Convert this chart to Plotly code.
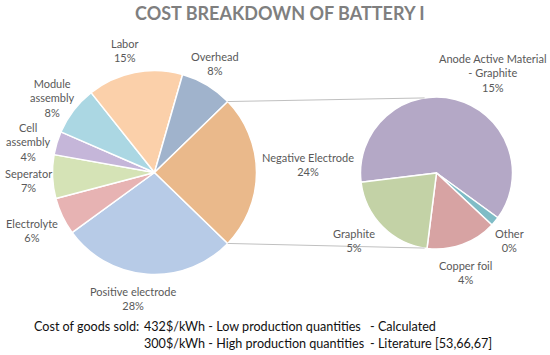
import math
import plotly.graph_objects as go

# ---- data ----
main_labels = ["Positive electrode", "Electrolyte", "Seperator", "Cell assembly",
               "Module assembly", "Labor", "Overhead", "Negative Electrode"]
main_values = [27.7, 5.9, 6.9, 3.7, 7.8, 15.1, 8.3]   # Negative Electrode = sum of its breakdown
sub_labels = ["Anode Active Material - Graphite", "Other", "Copper foil", "Graphite"]
sub_values = [15.15, 0.48, 3.67, 5.15]
footer_lines = [
    ("Cost of goods sold:", "432$/kWh - Low production quantities", "- Calculated"),
    ("", "300$/kWh - High production quantities", "- Literature [53,66,67]"),
]
title_text = "COST BREAKDOWN OF BATTERY I"

# ---- styles ----
main_colors = ["#b7cbe7", "#e7b3b3", "#d5e3b6", "#c5b6d9", "#abd7e3", "#fbd0aa", "#a0b3cc", "#eab98b"]
sub_colors = ["#b4a8c6", "#7fbcc6", "#d7a3a3", "#c3d2a6"]
W, H = 550, 355
LABEL_FONT = dict(family="Lato, Open Sans, sans-serif", size=11, color="#595959")

neg_value = sum(sub_values)
all_main = main_values + [neg_value]
total = sum(all_main)


def pct(v):
    return f"{round(v / total * 100):.0f}%"


def px(x):
    return x / W


def py(y):
    return 1 - y / H


# geometry (pixels)
c1x, c1y, r1 = 154.5, 172.5, 102
c2x, c2y, r2 = 436.5, 173, 76

half = neg_value / total * 180.0
rot_main = 90 + half

fig = go.Figure()
fig.add_trace(go.Pie(
    labels=main_labels, values=all_main, sort=False, direction="clockwise",
    rotation=rot_main, textinfo="none", hoverinfo="label+percent",
    marker=dict(colors=main_colors, line=dict(color="white", width=1.5)),
    domain=dict(x=[px(c1x - r1), px(c1x + r1)], y=[py(c1y + r1), py(c1y - r1)]),
    showlegend=False,
))
fig.add_trace(go.Pie(
    labels=sub_labels, values=sub_values, sort=False, direction="clockwise",
    rotation=263, textinfo="none", hoverinfo="label+value",
    marker=dict(colors=sub_colors, line=dict(color="white", width=1.5)),
    domain=dict(x=[px(c2x - r2), px(c2x + r2)], y=[py(c2y + r2), py(c2y - r2)]),
    showlegend=False,
))

# connector lines, computed from the slice geometry
a = math.radians(half)
p_top = (c1x + r1 * math.cos(a), c1y - r1 * math.sin(a))
p_bot = (c1x + r1 * math.cos(a), c1y + r1 * math.sin(a))
off = math.radians(9)
q_top = (c2x - r2 * math.sin(off), c2y - r2 * math.cos(off))
q_bot = (c2x - r2 * math.sin(off), c2y + r2 * math.cos(off))
for p, q in [(p_top, q_top), (p_bot, q_bot)]:
    fig.add_shape(type="line", xref="paper", yref="paper",
                  x0=px(p[0]), y0=py(p[1]), x1=px(q[0]), y1=py(q[1]),
                  line=dict(color="#c0c0c0", width=1), layer="above")

# data labels
display_main = ["Positive electrode", "Electrolyte", "Seperator", "Cell<br>assembly",
                "Module<br>assembly", "Labor", "Overhead", "Negative Electrode"]
pos_main = [(133, 298), (32, 230), (28, 180), (28, 142), (52, 98), (125, 50.5), (215, 64), (308, 164.5)]
for txt, v, (x, y) in zip(display_main, all_main, pos_main):
    fig.add_annotation(x=px(x), y=py(y), xref="paper", yref="paper", showarrow=False,
                       text=f"{txt}<br>{pct(v)}", font=LABEL_FONT, xanchor="center", yanchor="middle")

display_sub = ["Anode Active Material<br>- Graphite", "Other", "Copper foil", "Graphite"]
pos_sub = [(493, 73.5), (509, 240), (465, 272.5), (354, 240)]
for txt, v, (x, y) in zip(display_sub, sub_values, pos_sub):
    fig.add_annotation(x=px(x), y=py(y), xref="paper", yref="paper", showarrow=False,
                       text=f"{txt}<br>{pct(v)}", font=LABEL_FONT, xanchor="center", yanchor="middle")

# title
fig.add_annotation(x=px(280), y=py(13), xref="paper", yref="paper", showarrow=False,
                   text=f"<b>{title_text}</b>", xanchor="center", yanchor="middle",
                   font=dict(family="Lato, Open Sans, sans-serif", size=18, color="#7f7f7f"))

# footer
FOOT_FONT = dict(family="Lato, Open Sans, sans-serif", size=12.6, color="#111111")
for (a_txt, b_txt, c_txt), y in zip(footer_lines, [326, 343]):
    for txt, x in [(a_txt, 32), (b_txt, 142), (c_txt, 368)]:
        if txt:
            fig.add_annotation(x=px(x), y=py(y), xref="paper", yref="paper", showarrow=False,
                               text=txt, font=FOOT_FONT, xanchor="left", yanchor="middle")

fig.update_layout(width=W, height=H, margin=dict(l=0, r=0, t=0, b=0),
                  paper_bgcolor="white", plot_bgcolor="white")
fig.write_html("out.html", config={"displayModeBar": False},
               post_script="document.body.style.margin='0';")
